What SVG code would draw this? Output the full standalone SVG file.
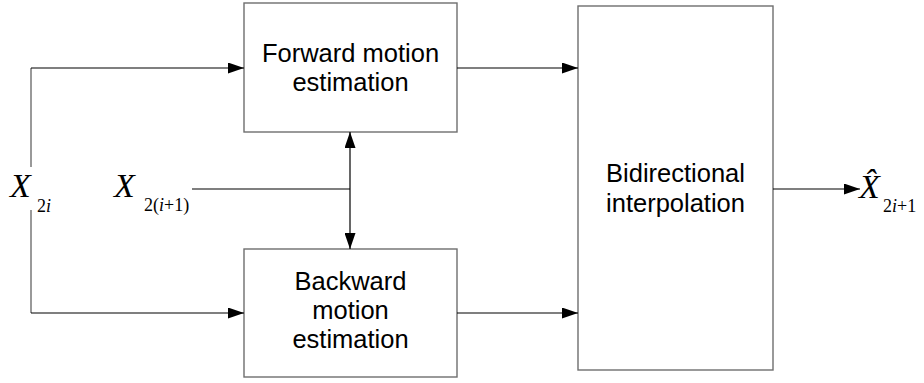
<svg xmlns="http://www.w3.org/2000/svg" width="924" height="383" viewBox="0 0 924 383">
<style>
.box{fill:#fff;stroke:#6e6e6e;stroke-width:1.4}
.lbl{font-family:"Liberation Sans",Arial,sans-serif;font-size:25.5px;fill:#000;text-anchor:middle}
.ln{fill:none;stroke:#000;stroke-width:1.2}
.gl{fill:none;stroke:#6e6e6e;stroke-width:1.4}
.m{font-family:"Liberation Serif","Times New Roman",serif;fill:#000}
.big{font-size:34px;font-style:italic}
.sub{font-size:18px}
</style>
<defs>
<marker id="ah" markerWidth="16" markerHeight="11" refX="16" refY="5.5" orient="auto" markerUnits="userSpaceOnUse">
<path d="M0,0 L16,5.5 L0,11 Z" fill="#000"/>
</marker>
</defs>
<g id="forward">
<rect class="box" x="244" y="3" width="213" height="129"/>
<text class="lbl" x="350.5" y="62">Forward motion</text>
<text class="lbl" x="350.5" y="91">estimation</text>
</g>
<g id="backward">
<rect class="box" x="244" y="249" width="213" height="128"/>
<text class="lbl" x="350.5" y="290">Backward</text>
<text class="lbl" x="350.5" y="319">motion</text>
<text class="lbl" x="350.5" y="348">estimation</text>
</g>
<g id="bidirectional">
<rect class="box" x="578" y="6" width="195" height="364"/>
<text class="lbl" x="675.5" y="182">Bidirectional</text>
<text class="lbl" x="675.5" y="212">interpolation</text>
</g>
<g id="x2i">
<text class="m big" x="10" y="197">X</text>
<text class="m sub" x="37" y="212">2<tspan font-style="italic">i</tspan></text>
</g>
<g id="x2i1">
<text class="m big" x="114" y="197">X</text>
<text class="m sub" x="144" y="211">2(<tspan font-style="italic">i</tspan>+1)</text>
</g>
<g id="xhat">
<text class="m big" x="859" y="198">X&#x302;</text>
<text class="m sub" x="883" y="212">2<tspan font-style="italic">i</tspan>+1</text>
</g>
<g id="connectors">
<path class="gl" d="M31,167 V68"/>
<path class="ln" d="M31,68 H244" marker-end="url(#ah)"/>
<path class="gl" d="M31,210 V313"/>
<path class="ln" d="M31,313 H244" marker-end="url(#ah)"/>
<path class="ln" d="M457,68 H578" marker-end="url(#ah)"/>
<path class="ln" d="M457,313 H578" marker-end="url(#ah)"/>
<path class="ln" d="M192,189 H350"/>
<path class="ln" d="M350,189 V132" marker-end="url(#ah)"/>
<path class="ln" d="M350,189 V249" marker-end="url(#ah)"/>
<path class="ln" d="M773,189 H860" marker-end="url(#ah)"/>
</g>
</svg>
